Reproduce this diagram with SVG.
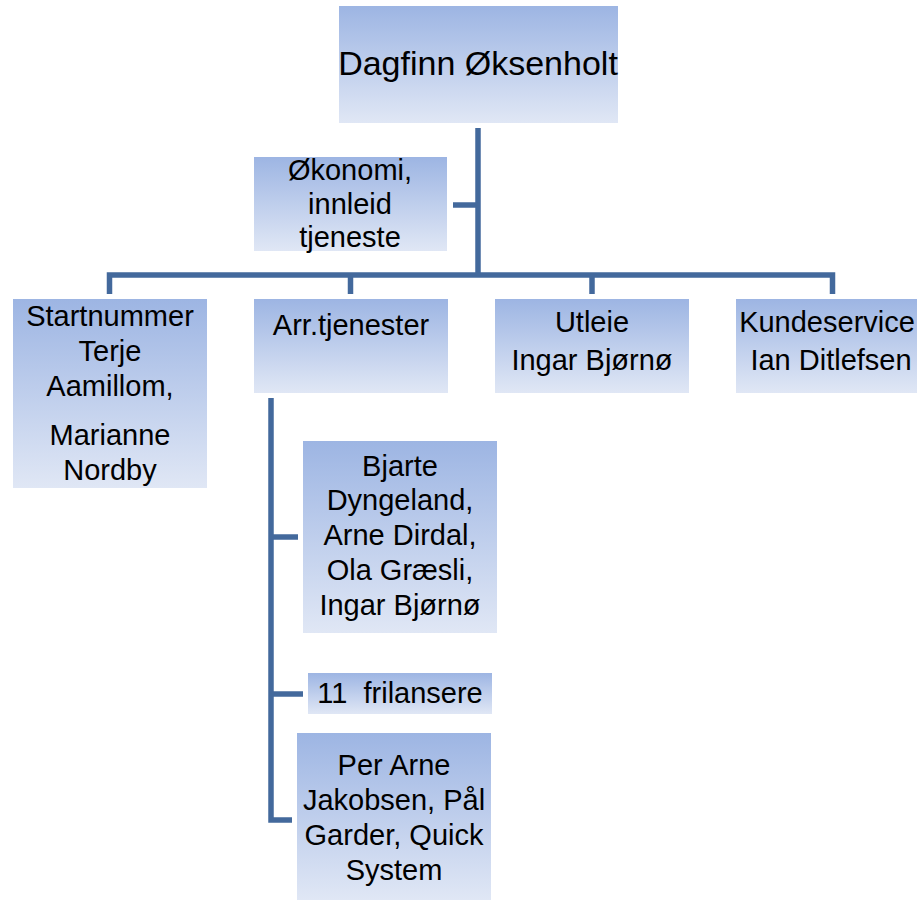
<svg xmlns="http://www.w3.org/2000/svg" width="917" height="900" viewBox="0 0 917 900">
<defs>
<linearGradient id="g" x1="0" y1="0" x2="0" y2="1">
<stop offset="0" stop-color="#9db5e3"/>
<stop offset="1" stop-color="#e0e7f5"/>
</linearGradient>
<style>
.box{fill:url(#g);}
text{font-family:"Liberation Sans",Arial,sans-serif;font-size:29px;fill:#000;text-anchor:middle;}
.t{font-size:34px;}
.c{fill:none;stroke:#43699c;stroke-width:5.5;stroke-linecap:butt;stroke-linejoin:miter;}
</style>
</defs>
<rect width="917" height="900" fill="#fff"/>
<g id="connectors">
<path class="c" d="M478,128 V275"/>
<path class="c" d="M453,205 H478"/>
<path class="c" d="M109.5,294 V275 H832.5 V294"/>
<path class="c" d="M350.5,275 V294"/>
<path class="c" d="M592,275 V294"/>
<path class="c" d="M271,398 V820 H292"/>
<path class="c" d="M271,537 H298"/>
<path class="c" d="M271,694 H303"/>
</g>
<g id="n-dagfinn">
<rect class="box" x="339" y="6" width="279" height="117"/>
<text class="t" x="478" y="75">Dagfinn Øksenholt</text>
</g>
<g id="n-okonomi">
<rect class="box" x="254" y="157" width="193" height="94"/>
<text x="350" y="180">Økonomi,</text>
<text x="350" y="214">innleid</text>
<text x="350" y="247">tjeneste</text>
</g>
<g id="n-startnummer">
<rect class="box" x="13" y="299" width="194" height="189"/>
<text x="110" y="326">Startnummer</text>
<text x="110" y="361">Terje</text>
<text x="110" y="396">Aamillom,</text>
<text x="110" y="445">Marianne</text>
<text x="110" y="480">Nordby</text>
</g>
<g id="n-arr">
<rect class="box" x="254" y="299" width="194" height="94"/>
<text x="351" y="335">Arr.tjenester</text>
</g>
<g id="n-utleie">
<rect class="box" x="495" y="299" width="194" height="94"/>
<text x="592" y="332">Utleie</text>
<text x="592" y="370">Ingar Bjørnø</text>
</g>
<g id="n-kunde">
<rect class="box" x="736" y="299" width="194" height="94"/>
<text x="827" y="332">Kundeservice</text>
<text x="831" y="370">Ian Ditlefsen</text>
</g>
<g id="n-bjarte">
<rect class="box" x="303" y="441" width="194" height="192"/>
<text x="400" y="476">Bjarte</text>
<text x="400" y="510">Dyngeland,</text>
<text x="400" y="545">Arne Dirdal,</text>
<text x="400" y="580">Ola Græsli,</text>
<text x="400" y="615">Ingar Bjørnø</text>
</g>
<g id="n-frilansere">
<rect class="box" x="308" y="673" width="184" height="41"/>
<text x="400" y="703" xml:space="preserve">11  frilansere</text>
</g>
<g id="n-perarne">
<rect class="box" x="297" y="733" width="194" height="167"/>
<text x="394" y="775">Per Arne</text>
<text x="394" y="810">Jakobsen, Pål</text>
<text x="394" y="845">Garder, Quick</text>
<text x="394" y="880">System</text>
</g>
</svg>
